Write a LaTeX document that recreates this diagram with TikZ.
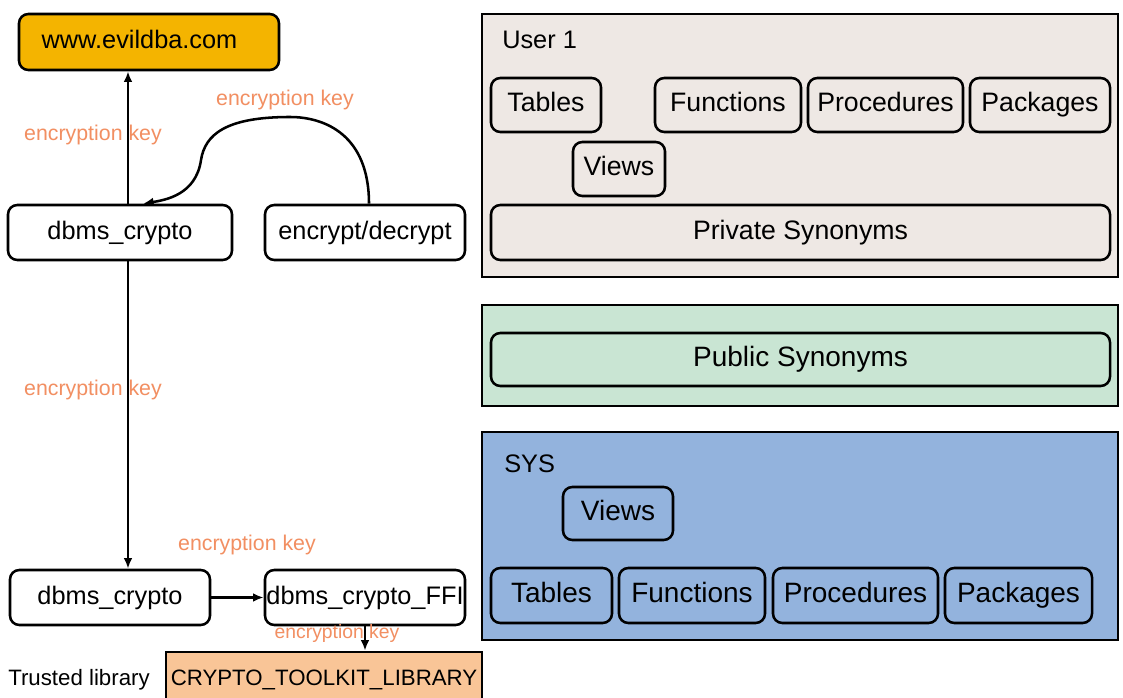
\documentclass[tikz,border=0pt]{standalone}
\usepackage{fontspec}
\setmainfont{Liberation Sans}
\usetikzlibrary{arrows.meta}
\definecolor{evilgold}{HTML}{F4B400}
\definecolor{toolkit}{HTML}{F9C597}
\definecolor{userbg}{HTML}{EEE8E4}
\definecolor{pubbg}{HTML}{C9E5D3}
\definecolor{sysbg}{HTML}{93B3DD}
\definecolor{keyorange}{HTML}{F28F62}
\newcommand\mybox[7]{%
  \node[#1, minimum width={(#5-#3)*0.75pt}, minimum height={(#6-#4)*0.75pt}] (#2) at ({(#3+#5)/2},{(#4+#6)/2}) {#7};}
\tikzset{
  box/.style={draw=black, line width=1.9pt, rounded corners=7pt, inner sep=0pt,
    text height=13.9pt, text depth=4pt, font=\fontsize{19}{22}\selectfont},
  ubox/.style={box, text height=14.6pt, text depth=4.2pt, font=\fontsize{20}{24}\selectfont},
  sbox/.style={box, text height=15.3pt, text depth=4.4pt, font=\fontsize{21}{25}\selectfont},
  panel/.style={draw=black, line width=1.9pt, inner sep=0pt},
  lbl/.style={text=keyorange, inner sep=0pt, font=\fontsize{16}{19}\selectfont},
  arr/.style={-{Latex[length=8pt,width=6.5pt]}, line width=1.9pt},
}
\begin{document}
\begin{tikzpicture}[x=0.75pt,y=-0.75pt]
\useasboundingbox[fill=white] (0,0) rectangle (1123,698);

% left side
\mybox{box, fill=evilgold, align=left, text width=161pt, inner xsep=17pt}{evil}{19}{14}{279}{70}{www.evildba.com}
\mybox{box}{dc1}{8}{205}{232}{260}{dbms\_crypto}
\mybox{box}{ed}{265}{205}{465}{260}{encrypt/decrypt}
\mybox{box}{dc2}{10}{570}{210}{625}{dbms\_crypto}
\mybox{box}{ffi}{265}{570}{465}{625}{dbms\_crypto\_FFI}
\mybox{box, rounded corners=0pt, fill=toolkit, text height=12.2pt, text depth=3.5pt, font=\fontsize{16.7}{20}\selectfont}{crypto}{166}{652}{482}{708}{CRYPTO\_TOOLKIT\_LIBRARY}
\node[inner sep=0pt, font=\fontsize{16.7}{20}\selectfont] (trusted) at (79,680) {Trusted library};

\node[lbl] (k1) at (93,135) {encryption key};
\node[lbl] (k2) at (285,100) {encryption key};
\node[lbl] (k3) at (93,390) {encryption key};
\node[lbl] (k4) at (247,545) {encryption key};
\node[lbl, font=\fontsize{14.5}{17}\selectfont] (k5) at (337,633) {encryption key};

\draw[arr] (dc1.north -| 128,0) -- (evil.south -| 128,0);
\draw[arr] (ed.north -| 369,0) .. controls (369,135) and (325,117) .. (290,117)
  .. controls (225,117) and (205,135) .. (201,160)
  .. controls (196,195) and (165,200) .. (dc1.north -| 143,0);
\draw[arr] (dc1.south -| 128,0) -- (dc2.north -| 128,0);
\draw[arr] (dc2.east) -- (ffi.west);
\draw[arr] (ffi.south) -- (ffi.south |- crypto.north);

% User 1 panel
\mybox{panel, fill=userbg}{user}{482}{14}{1118}{277}{}
\node[anchor=west, inner sep=0pt, font=\fontsize{19}{22}\selectfont] (usert) at (502,40) {User 1};
\mybox{ubox}{ut}{491}{78}{601}{132}{Tables}
\mybox{ubox}{uf}{655}{78}{801}{132}{Functions}
\mybox{ubox}{upr}{808}{78}{963}{132}{Procedures}
\mybox{ubox}{upk}{970}{78}{1110}{132}{Packages}
\mybox{ubox}{uv}{573}{142}{665}{196}{Views}
\mybox{ubox}{ups}{491}{205}{1110}{260}{Private Synonyms}

% Public panel
\mybox{panel, fill=pubbg}{pub}{482}{305}{1118}{406}{}
\mybox{sbox}{pubs}{491}{333}{1110}{386}{Public Synonyms}

% SYS panel
\mybox{panel, fill=sysbg}{sys}{482}{432}{1118}{640}{}
\node[anchor=west, inner sep=0pt, font=\fontsize{19}{22}\selectfont] (syst) at (504,464) {SYS};
\mybox{sbox}{sv}{563}{487}{673}{540}{Views}
\mybox{sbox}{st}{491}{568}{612}{623}{Tables}
\mybox{sbox}{sf}{619}{568}{765}{623}{Functions}
\mybox{sbox}{spr}{773}{568}{938}{623}{Procedures}
\mybox{sbox}{spk}{945}{568}{1092}{623}{Packages}
\end{tikzpicture}
\end{document}
